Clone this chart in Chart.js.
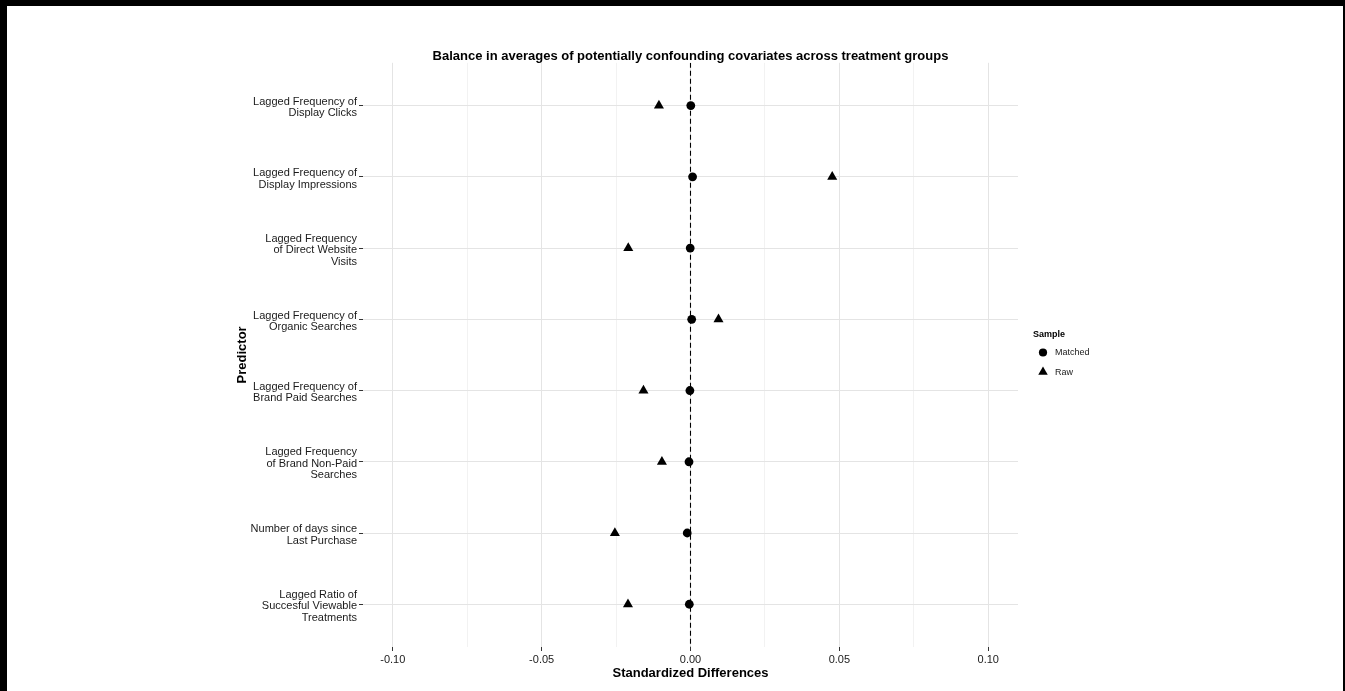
<!DOCTYPE html>
<html>
<head>
<meta charset="utf-8">
<script src="https://cdn.jsdelivr.net/npm/chart.js@4/dist/chart.umd.min.js"></script>
<style>
  html, body { margin: 0; padding: 0; background: #ffffff; overflow: hidden; }
  #wrap { position: relative; width: 1345px; height: 691px; }
  canvas { position: absolute; left: 0; top: 0; }
  .edge { position: absolute; background: #000; }
</style>
</head>
<body>
<div id="wrap">
  <canvas id="chart" width="1345" height="691"></canvas>
  <div class="edge" style="left:0;top:0;width:1345px;height:6px"></div>
  <div class="edge" style="left:0;top:0;width:7px;height:691px"></div>
  <div class="edge" style="left:1343px;top:0;width:2px;height:691px"></div>
</div>
<script>
// Covariates, top to bottom
const predictors = [
  ['Lagged Frequency of', 'Display Clicks'],
  ['Lagged Frequency of', 'Display Impressions'],
  ['Lagged Frequency', 'of Direct Website', 'Visits'],
  ['Lagged Frequency of', 'Organic Searches'],
  ['Lagged Frequency of', 'Brand Paid Searches'],
  ['Lagged Frequency', 'of Brand Non-Paid', 'Searches'],
  ['Number of days since', 'Last Purchase'],
  ['Lagged Ratio of', 'Succesful Viewable', 'Treatments']
];

// Standardized mean differences per sample
const matchedDiff = [0.0001, 0.0007, -0.0001, 0.0004, -0.0002, -0.0005, -0.0011, -0.0004];
const rawDiff     = [-0.0106, 0.0476, -0.0209, 0.0094, -0.0158, -0.0096, -0.0254, -0.0210];

// Axis ticks
const xMajorTicks = [-0.10, -0.05, 0.00, 0.05, 0.10];
const xMinorTicks = [-0.075, -0.025, 0.025, 0.075];
const xRange = [-0.11, 0.11];

const sampleNames = ['Matched', 'Raw'];

const FONT = "'Liberation Sans', Arial, Helvetica, sans-serif";
const isMajor = v => xMajorTicks.some(m => Math.abs(m - v) < 1e-9);

const toPoints = arr => arr.map((v, i) => ({ x: v, y: i + 1 }));

// Centre multi-line predictor labels on their row (nudges text block down a little)
const labelNudge = {
  id: 'labelNudge',
  afterUpdate(chart) {
    const items = chart.scales.y.getLabelItems();
    items.forEach(it => { it.options.translation[1] += 2; });
  }
};

// Legend for the sample series, drawn to the right of the panel
const sampleLegend = {
  id: 'sampleLegend',
  afterDraw(chart) {
    const { ctx, chartArea } = chart;
    const x0 = chartArea.right + 15;
    const y0 = 335;
    ctx.save();
    ctx.fillStyle = '#000';
    ctx.textBaseline = 'middle';
    ctx.textAlign = 'left';
    ctx.font = 'bold 9px ' + FONT;
    ctx.fillText('Sample', x0, y0);
    ctx.font = '9px ' + FONT;
    const series = chart.data.datasets.filter(d => d.sampleLegend);
    series.forEach((ds, i) => {
      const cy = y0 + 17.5 + i * 19.5;
      const opts = { pointStyle: ds.pointStyle, radius: ds.pointRadius - 0.3, borderWidth: 0, rotation: 0 };
      ctx.fillStyle = ds.backgroundColor;
      ctx.strokeStyle = ds.borderColor;
      Chart.helpers.drawPoint(ctx, opts, x0 + 10, cy);
      ctx.fillStyle = '#1a1a1a';
      ctx.fillText(ds.label, x0 + 22, cy + 0.5);
    });
    ctx.restore();
  }
};

new Chart(document.getElementById('chart'), {
  type: 'scatter',
  data: {
    datasets: [
      {
        label: sampleNames[0],
        sampleLegend: true,
        data: toPoints(matchedDiff),
        pointStyle: 'circle',
        pointRadius: 4.4,
        backgroundColor: '#000',
        borderColor: '#000',
        borderWidth: 0,
        order: 1
      },
      {
        label: sampleNames[1],
        sampleLegend: true,
        data: toPoints(rawDiff),
        pointStyle: 'triangle',
        pointRadius: 5.8,
        backgroundColor: '#000',
        borderColor: '#000',
        borderWidth: 0,
        order: 2
      },
      {
        // zero-difference reference line
        type: 'line',
        label: 'zero',
        data: [{ x: 0, y: 0.4 }, { x: 0, y: 8.6 }],
        borderColor: '#000',
        borderWidth: 1.1,
        borderDash: [5, 3],
        pointRadius: 0,
        fill: false,
        order: 3
      }
    ]
  },
  options: {
    responsive: false,
    devicePixelRatio: 1,
    animation: false,
    events: [],
    layout: { padding: { left: 231, right: 327, top: 0, bottom: 10 } },
    plugins: {
      legend: { display: false },
      tooltip: { enabled: false },
      title: {
        display: true,
        fullSize: false,
        text: 'Balance in averages of potentially confounding covariates across treatment groups',
        color: '#000',
        font: { family: FONT, size: 13, weight: 'bold', lineHeight: 1.0 },
        padding: { top: 49.8, bottom: 0 }
      }
    },
    scales: {
      x: {
        type: 'linear',
        min: xRange[0],
        max: xRange[1],
        afterBuildTicks: s => { s.ticks = [...xMajorTicks, ...xMinorTicks].sort((a, b) => a - b).map(v => ({ value: v })); },
        afterFit: s => { s.height = 34; },
        border: { display: false },
        grid: {
          color: c => isMajor(c.tick.value) ? '#e4e4e4' : '#f2f2f2',
          lineWidth: 1,
          drawTicks: true,
          tickLength: 4,
          tickColor: c => isMajor(c.tick.value) ? '#333' : 'rgba(0,0,0,0)'
        },
        ticks: {
          autoSkip: false,
          maxRotation: 0,
          padding: 2,
          color: '#1a1a1a',
          font: { family: FONT, size: 11 },
          callback: v => isMajor(v) ? v.toFixed(2) : ''
        },
        title: {
          display: true,
          text: 'Standardized Differences',
          color: '#000',
          font: { family: FONT, size: 13, weight: 'bold', lineHeight: 1.2 },
          padding: { top: 0, bottom: 0 }
        }
      },
      y: {
        type: 'linear',
        reverse: true,
        min: 0.4,
        max: predictors.length + 0.6,
        afterBuildTicks: s => { s.ticks = predictors.map((_, i) => ({ value: i + 1 })); },
        afterFit: s => { s.width = 132; },
        border: { display: false },
        grid: {
          color: '#e4e4e4',
          lineWidth: 1,
          drawTicks: true,
          tickLength: 4,
          tickColor: '#333'
        },
        ticks: {
          autoSkip: false,
          padding: 2,
          color: '#1a1a1a',
          font: { family: FONT, size: 11, lineHeight: 1.05 },
          callback: v => predictors[Math.round(v) - 1]
        },
        title: {
          display: true,
          text: 'Predictor',
          color: '#000',
          font: { family: FONT, size: 13, weight: 'bold', lineHeight: 1.2 },
          padding: { top: 4, bottom: 4 }
        }
      }
    }
  },
  plugins: [labelNudge, sampleLegend]
});
</script>
</body>
</html>
